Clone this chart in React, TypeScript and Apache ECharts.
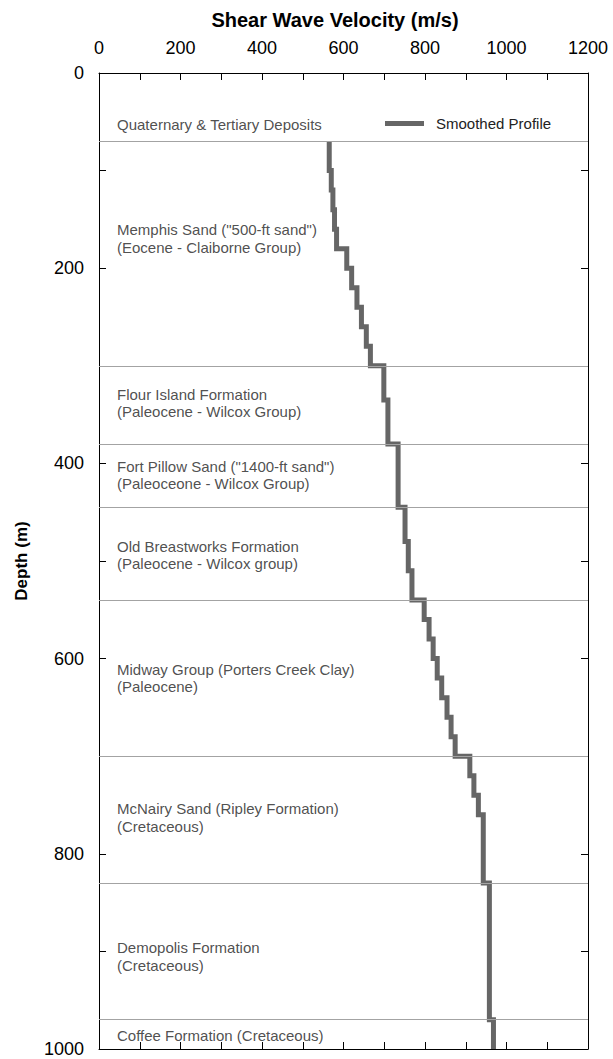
import React, { useEffect, useRef } from "react";
import * as echarts from "echarts";

// Axis tick labels
const velocityTickLabels = [0, 200, 400, 600, 800, 1000, 1200];
const depthTickLabels = [0, 200, 400, 600, 800, 1000];

// Smoothed shear-wave velocity profile: layer boundaries (m) and velocity in each layer (m/s)
const stepDepths = [
  70, 100, 120, 140, 160, 180, 200, 220, 240, 260, 280, 300, 335, 380, 445, 480,
  510, 540, 560, 580, 600, 620, 640, 660, 680, 700, 720, 740, 760, 830, 970, 1000,
];
const stepVelocities = [
  565, 570, 574, 578, 583, 608, 620, 633, 644, 656, 666, 699, 709, 734, 751, 759,
  768, 798, 810, 820, 830, 841, 854, 864, 874, 910, 920, 931, 943, 958, 968,
];

// Geologic units: top depths of the lower units (m), names and where the names sit
const formationTops = [70, 300, 380, 445, 540, 700, 830, 970];
const formationNames = [
  "Quaternary & Tertiary Deposits",
  'Memphis Sand ("500-ft sand")\n(Eocene - Claiborne Group)',
  "Flour Island Formation\n(Paleocene - Wilcox Group)",
  'Fort Pillow Sand ("1400-ft sand")\n(Paleoceone - Wilcox Group)',
  "Old Breastworks Formation\n(Paleocene - Wilcox group)",
  "Midway Group (Porters Creek Clay)\n(Paleocene)",
  "McNairy Sand (Ripley Formation)\n(Cretaceous)",
  "Demopolis Formation\n(Cretaceous)",
  "Coffee Formation (Cretaceous)",
];
const formationLabelDepths = [53, 169.5, 338, 412, 494, 620, 763, 905, 986];
const formationLabelVelocity = 43;

const FONT = "'Liberation Sans', Arial, Helvetica, sans-serif";
const PROFILE_COLOR = "#666666";

function buildProfile(): [number, number][] {
  const pts: [number, number][] = [];
  stepVelocities.forEach((v, i) => {
    pts.push([v, stepDepths[i]]);
    pts.push([v, stepDepths[i + 1]]);
  });
  return pts;
}

export default function App() {
  const ref = useRef<HTMLDivElement>(null);

  useEffect(() => {
    if (!ref.current) return;
    const chart = echarts.init(ref.current, undefined, { renderer: "svg" });

    const axisLine = { show: true, onZero: false, lineStyle: { color: "#000", width: 1 } };
    const axisTick = {
      show: true,
      inside: true,
      length: 7,
      lineStyle: { color: "#000", width: 1 },
    };

    const xBase = {
      type: "value" as const,
      min: 0,
      max: 1200,
      interval: 100,
      splitLine: { show: false },
      axisLine,
      axisTick,
    };
    const yBase = {
      type: "value" as const,
      min: 0,
      max: 1000,
      interval: 100,
      inverse: true,
      splitLine: { show: false },
      axisLine,
      axisTick,
    };

    chart.setOption({
      animation: false,
      backgroundColor: "#ffffff",
      textStyle: { fontFamily: FONT },
      grid: { left: 99, right: 25, top: 73, bottom: 10 },
      legend: {
        data: [{ name: "Smoothed Profile", icon: "rect" }],
        left: 385,
        top: 116,
        padding: 0,
        itemWidth: 39,
        itemHeight: 5,
        itemStyle: { color: PROFILE_COLOR, borderWidth: 0 },
        textStyle: {
          fontFamily: FONT,
          fontSize: 15,
          color: "#222",
          padding: [0, 0, 0, 7],
        },
      },
      xAxis: [
        {
          ...xBase,
          position: "top",
          name: "Shear Wave Velocity (m/s)",
          nameLocation: "middle",
          nameGap: 43,
          nameTextStyle: {
            fontFamily: FONT,
            fontSize: 20,
            fontWeight: "bold",
            color: "#000",
            padding: [0, 17, 0, 0],
          },
          axisLabel: {
            margin: 16,
            fontFamily: FONT,
            fontSize: 18,
            color: "#000",
            formatter: (v: number) =>
              velocityTickLabels.includes(v) ? String(v) : "",
          },
        },
        {
          ...xBase,
          position: "bottom",
          axisLabel: { show: false },
        },
      ],
      yAxis: [
        {
          ...yBase,
          position: "left",
          name: "Depth (m)",
          nameLocation: "middle",
          nameGap: 69,
          nameTextStyle: {
            fontFamily: FONT,
            fontSize: 17,
            fontWeight: "bold",
            color: "#000",
          },
          axisLabel: {
            margin: 15,
            fontFamily: FONT,
            fontSize: 18,
            color: "#000",
            formatter: (v: number) =>
              depthTickLabels.includes(v) ? String(v) : "",
          },
        },
        {
          ...yBase,
          position: "right",
          axisLabel: { show: false },
        },
      ],
      series: [
        {
          name: "Formations",
          type: "scatter",
          xAxisIndex: 0,
          yAxisIndex: 0,
          silent: true,
          z: 1,
          symbol: "circle",
          symbolSize: 1,
          itemStyle: { color: "transparent" },
          data: formationLabelDepths.map((d, i) => ({
            value: [formationLabelVelocity, d],
            label: { formatter: formationNames[i] },
          })),
          label: {
            show: true,
            position: "right",
            distance: 0,
            fontFamily: FONT,
            fontSize: 15,
            lineHeight: 17.5,
            color: "#222",
          },
          markLine: {
            silent: true,
            symbol: ["none", "none"],
            label: { show: false },
            lineStyle: { color: "#a3a3a3", width: 1, type: "solid" },
            data: formationTops.map((d) => ({ yAxis: d })),
          },
        },
        {
          name: "Smoothed Profile",
          type: "line",
          xAxisIndex: 0,
          yAxisIndex: 0,
          z: 3,
          showSymbol: false,
          symbol: "none",
          silent: true,
          lineStyle: { color: PROFILE_COLOR, width: 5, join: "miter", cap: "butt" },
          itemStyle: { color: PROFILE_COLOR },
          data: buildProfile(),
        },
      ],
    });

    return () => chart.dispose();
  }, []);

  return (
    <div
      ref={ref}
      style={{ position: "fixed", left: 0, top: 0, width: 613, height: 1059 }}
    />
  );
}
